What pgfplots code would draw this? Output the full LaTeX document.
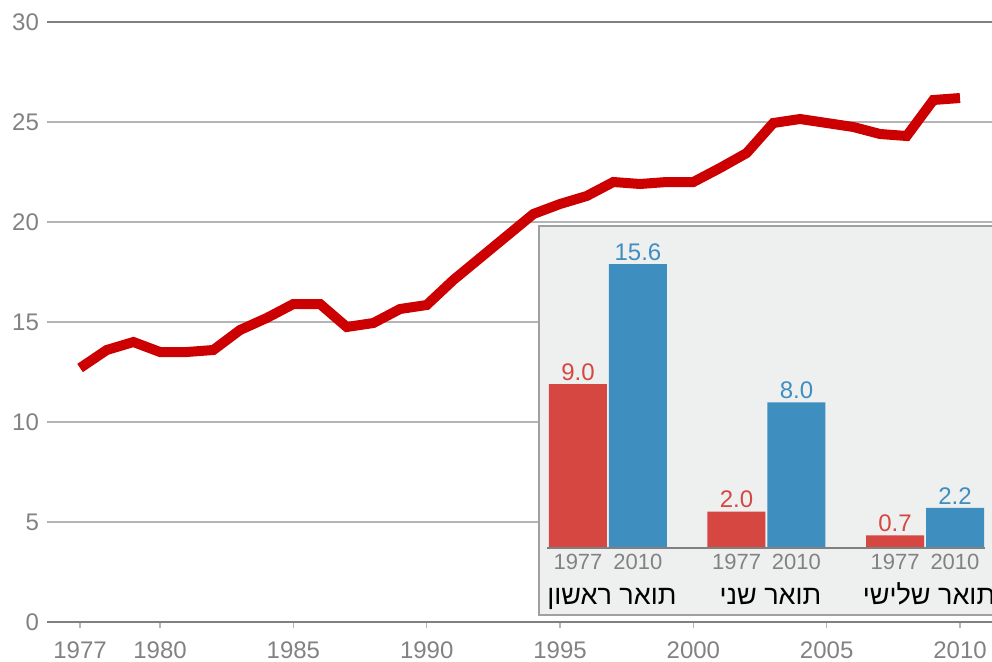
\documentclass[border=0pt]{standalone}
\usepackage{pgfplots}
\pgfplotsset{compat=1.18}
\usepackage{fontspec}
\setmainfont{Liberation Sans}
\newfontfamily\hebfont[Script=Hebrew]{Liberation Sans}
\TeXXeTstate=1

\definecolor{lred}{RGB}{204,0,0}
\definecolor{barred}{RGB}{214,71,65}
\definecolor{barblue}{RGB}{63,142,192}
\definecolor{tickgray}{RGB}{130,130,130}
\definecolor{gridgray}{RGB}{180,180,180}
\definecolor{axisgray}{RGB}{128,128,128}
\definecolor{insetbg}{RGB}{238,240,240}
\definecolor{insetborder}{RGB}{160,160,160}

\begin{document}
\begin{tikzpicture}
\useasboundingbox (0,0) rectangle (496pt,330.5pt);

% main series
\begin{axis}[
    at={(23.5pt,19.5pt)}, anchor=south west,
    scale only axis, width=472.5pt, height=300pt,
    xmin=1975.76, xmax=2011.2,
    ymin=0, ymax=30,
    xtick={1977,1980,1985,1990,1995,2000,2005,2010},
    ytick={0,5,10,15,20,25,30},
    axis line style={draw=none},
    xtick pos=bottom, tick align=outside,
    major tick length=3pt,
    xtick style={draw=gridgray, line width=0.6pt},
    ytick style={draw=none},
    ymajorgrids=true,
    grid style={gridgray, line width=0.6pt},
    ticklabel style={text=tickgray, font=\fontsize{12}{14}\selectfont},
    xticklabel style={yshift=-3.5pt},
    yticklabel style={xshift=2.5pt},
    /pgf/number format/1000 sep={},
    /pgf/number format/assume math mode=true,
    clip=false,
]
\draw[axisgray, line width=0.6pt] (rel axis cs:0,0) -- (rel axis cs:1,0);
\draw[axisgray, line width=0.6pt] (rel axis cs:0,1) -- (rel axis cs:1,1);

\addplot[lred, line width=5pt, mark=none] coordinates {
    (1977,12.7) (1978,13.6) (1979,14.0) (1980,13.5) (1981,13.5)
    (1982,13.6) (1983,14.6) (1984,15.2) (1985,15.9) (1986,15.9)
    (1987,14.75) (1988,14.95) (1989,15.65) (1990,15.85) (1991,17.1)
    (1992,18.2) (1993,19.3) (1994,20.4) (1995,20.9) (1996,21.3)
    (1997,22.0) (1998,21.9) (1999,22.0) (2000,22.0) (2001,22.7)
    (2002,23.45) (2003,24.95) (2004,25.15) (2005,24.95) (2006,24.75)
    (2007,24.4) (2008,24.3) (2009,26.1) (2010,26.2)
};
\end{axis}

% inset: degrees, 1977 vs 2010
\begin{axis}[
    at={(269.5pt,23pt)}, anchor=south west,
    scale only axis, width=230.5pt, height=194.5pt,
    xmin=-0.435, xmax=2.473,
    ymin=-3.68, ymax=17.69,
    axis background/.style={fill=insetbg},
    axis line style={draw=insetborder, line width=0.8pt},
    ybar=1pt, bar width=29pt,
    ytick=\empty,
    xtick={-0.189,0.189,0.811,1.189,1.811,2.189},
    xticklabels={1977,2010,1977,2010,1977,2010},
    xtick style={draw=none},
    xticklabel style={anchor=north, yshift=38pt, text=tickgray,
        font=\fontsize{11}{13}\selectfont},
    /pgf/number format/.cd, fixed, fixed zerofill, precision=1,
        assume math mode=true,
    /pgfplots/.cd,
    nodes near coords,
    every node near coord/.append style={font=\fontsize{12}{14}\selectfont,
        inner sep=1.5pt, anchor=south},
    clip=false,
]
\addplot[fill=barred, draw=none,
    every node near coord/.append style={text=barred}]
    coordinates {(0,9.0) (1,2.0) (2,0.7)};
\addplot[fill=barblue, draw=none,
    every node near coord/.append style={text=barblue}]
    coordinates {(0,15.6) (1,8.0) (2,2.2)};

\draw[axisgray, line width=1pt] (axis cs:-0.385,0) -- (axis cs:2.379,0);

\node[anchor=base, xshift=2pt, font=\fontsize{13.5}{15}\selectfont] at (axis cs:0,-3.08) {\hebfont\beginR תואר ראשון\endR};
\node[anchor=base, xshift=2pt, font=\fontsize{13.5}{15}\selectfont] at (axis cs:1,-3.08) {\hebfont\beginR תואר שני\endR};
\node[anchor=base, xshift=2pt, font=\fontsize{13.5}{15}\selectfont] at (axis cs:2,-3.08) {\hebfont\beginR תואר שלישי\endR};
\end{axis}
\end{tikzpicture}
\end{document}
